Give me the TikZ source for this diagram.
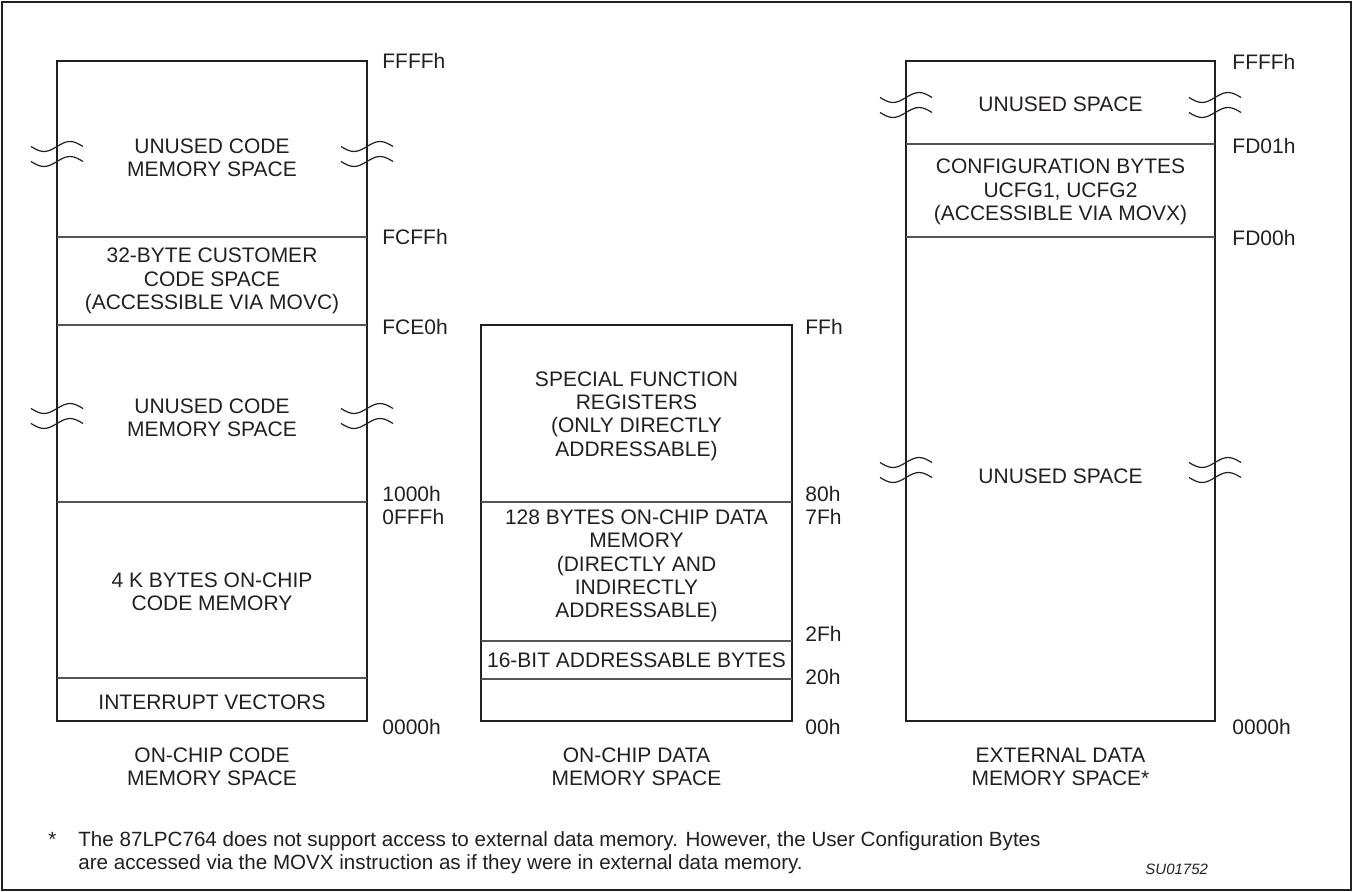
\documentclass[tikz,border=0pt]{standalone}
\usepackage{fontspec}
\setmainfont{Liberation Sans}
\usepackage{tikz}
\usetikzlibrary{positioning}
\definecolor{clinea}{HTML}{231F20}
\definecolor{cdiv}{HTML}{555555}
\tikzset{
  marco/.style={draw=clinea, line width=1pt},
  caja/.style={draw=clinea, line width=1.3pt},
  div/.style={draw=cdiv, line width=0.7pt},
  onda/.style={draw=clinea, line width=0.6pt},
  txt/.style={align=center, inner sep=0pt, text=clinea,
    font=\fontsize{10.5}{11.7}\selectfont},
  dir/.style={anchor=west, inner sep=0pt, text=clinea,
    font=\fontsize{10.5}{11.7}\selectfont},
  nota/.style={anchor=base west, inner sep=0pt, text=clinea,
    font=\fontsize{10.3}{11.5}\selectfont},
  brk/.pic={
    \draw[onda] (-26,-7.5) sin (-13,-2.5) cos (0,-7.5) sin (13,-12.5) cos (26,-7.5);
    \draw[onda] (-26,7.5) sin (-13,12.5) cos (0,7.5) sin (13,2.5) cos (26,7.5);
  },
}

\begin{document}
\begin{tikzpicture}[x=0.5pt, y=-0.5pt]
  \useasboundingbox (0,0) rectangle (1353,892);
  \draw[marco] (2,2) rectangle (1351,890);

  % on-chip code memory
  \draw[caja] (57,61) rectangle (367,721);
  \foreach \y in {237,325,502,678} \draw[div] (57,\y) -- (367,\y);
  \foreach \y in {154,416} {
    \pic at (57,\y) {brk};
    \pic at (367,\y) {brk};
  }
  \node[txt] (cu1) at (212,158) {UNUSED CODE\\MEMORY SPACE};
  \node[txt] (cc) at (212,281) {32-BYTE CUSTOMER\\CODE SPACE\\(ACCESSIBLE VIA MOVC)};
  \node[txt] (cu2) at (212,418) {UNUSED CODE\\MEMORY SPACE};
  \node[txt] (ck) at (212,592) {4 K BYTES ON-CHIP\\CODE MEMORY};
  \node[txt] (cv) at (212,702) {INTERRUPT VECTORS};
  \node[dir] (ca1) at (382,61) {FFFFh};
  \node[dir] (ca2) at (382,237) {FCFFh};
  \node[dir] (ca3) at (382,327) {FCE0h};
  \node[dir] (ca4) at (382,494) {1000h};
  \node[dir] (ca5) at (382,517) {0FFFh};
  \node[dir] (ca6) at (382,727) {0000h};
  \node[txt] (ct) at (212,767) {ON-CHIP CODE\\MEMORY SPACE};

  % on-chip data memory
  \draw[caja] (481,325) rectangle (792,721);
  \foreach \y in {502,641,679} \draw[div] (481,\y) -- (792,\y);
  \node[txt] (ds) at (636.5,416) {SPECIAL FUNCTION\\REGISTERS\\(ONLY DIRECTLY\\ADDRESSABLE)};
  \node[txt] (dm) at (636.5,566) {128 BYTES ON-CHIP DATA\\MEMORY\\(DIRECTLY AND\\INDIRECTLY\\ADDRESSABLE)};
  \node[txt] (db) at (636.5,660) {16-BIT ADDRESSABLE BYTES};
  \node[dir] (da1) at (805,327) {FFh};
  \node[dir] (da2) at (805,494) {80h};
  \node[dir] (da3) at (805,517) {7Fh};
  \node[dir] (da4) at (805,634) {2Fh};
  \node[dir] (da5) at (805,677) {20h};
  \node[dir] (da6) at (805,727) {00h};
  \node[txt] (dt) at (636.5,767) {ON-CHIP DATA\\MEMORY SPACE};

  % external data memory
  \draw[caja] (906,61) rectangle (1215,721);
  \foreach \y in {144,237} \draw[div] (906,\y) -- (1215,\y);
  \foreach \y in {105,470} {
    \pic at (906,\y) {brk};
    \pic at (1215,\y) {brk};
  }
  \node[txt] (eu1) at (1060.5,104) {UNUSED SPACE};
  \node[txt] (ec) at (1060.5,192) {CONFIGURATION BYTES\\UCFG1, UCFG2\\(ACCESSIBLE VIA MOVX)};
  \node[txt] (eu2) at (1060.5,476) {UNUSED SPACE};
  \node[dir] (ea1) at (1232,62) {FFFFh};
  \node[dir] (ea2) at (1232,146) {FD01h};
  \node[dir] (ea3) at (1232,238) {FD00h};
  \node[dir] (ea4) at (1232,727) {0000h};
  \node[txt] (et) at (1060.5,767) {EXTERNAL DATA\\MEMORY SPACE*};

  % footnote
  \node[nota] (na) at (48,846) {*};
  \node[nota] (n1) at (78,846) {The 87LPC764 does not support access to external data memory. However, the User Configuration Bytes};
  \node[nota] (n2) at (78,869) {are accessed via the MOVX instruction as if they were in external data memory.};
  \node[nota, font=\fontsize{7.5}{9}\selectfont\itshape] (su) at (1145,874) {SU01752};
\end{tikzpicture}
\end{document}
